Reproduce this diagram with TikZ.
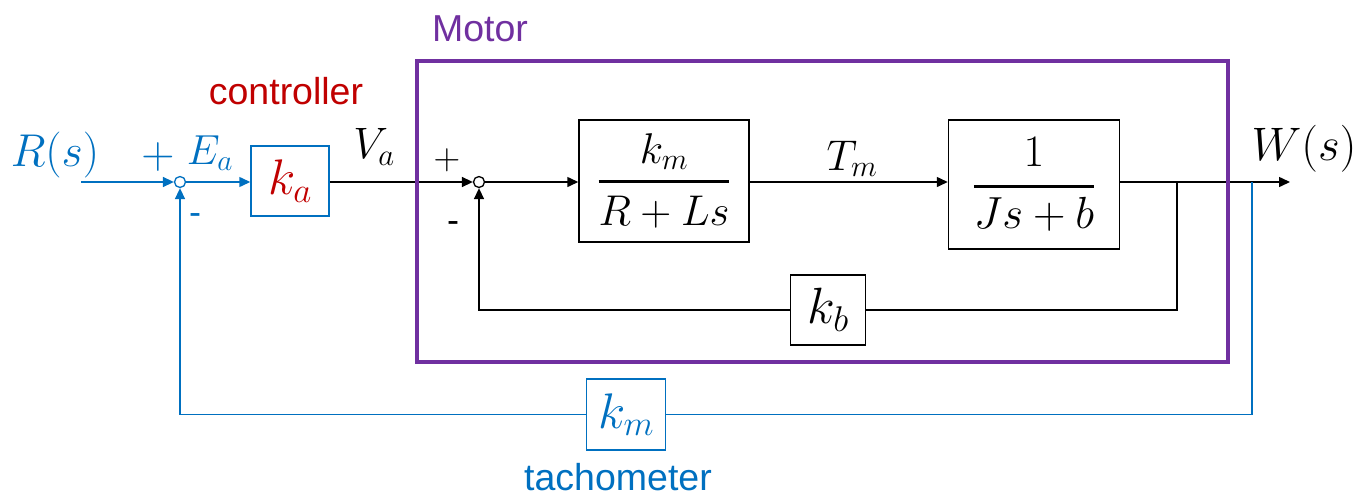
\RequirePackage{fix-cm}
\documentclass[tikz,border=0pt]{standalone}
\usepackage{amsmath}
\usepackage{fontspec}
\setsansfont{Liberation Sans}
\usetikzlibrary{arrows.meta}
\definecolor{cblue}{HTML}{0070C0}
\definecolor{cred}{HTML}{C00000}
\definecolor{cpurple}{HTML}{7030A0}
\newcommand{\fsz}[1]{\fontsize{#1}{#1}\selectfont}
\begin{document}
\begin{tikzpicture}[x=1pt,y=-1pt,
  conn/.style={line width=1.5pt},
  arr/.style={conn,-{Triangle[length=11pt,width=10pt]}},
  blk/.style={draw,line width=1.5pt,inner sep=0pt},
  sumc/.style={circle,draw,line width=1.3pt,fill=white,minimum size=11pt,inner sep=0pt},
  lbl/.style={inner sep=0pt},
  sanslbl/.style={inner sep=0pt,font=\sffamily\fsz{37.5}}]
\useasboundingbox (0,0) rectangle (1371,498);

% summing junctions
\node[sumc,draw=cblue] (s1) at (180,182) {};
\node[sumc] (s2) at (479,182) {};

% blocks
\node[blk,draw=cblue,minimum width=78pt,minimum height=70pt] (ka) at (290,181)
  {\fsz{50}$\color{cred}k_a$};
\node[blk,minimum width=170pt,minimum height=122pt] (g1) at (664,181)
  {\fsz{43}$\genfrac{}{}{3pt}{0}{k_m}{\rule{0pt}{0.78em}R+Ls}$};
\node[blk,minimum width=171pt,minimum height=129pt] (g2) at (1034,184.5)
  {\fsz{45}$\genfrac{}{}{3pt}{0}{1}{Js+b}$};
\node[blk,minimum width=75pt,minimum height=70pt] (kb) at (828,310)
  {\fsz{51}$k_b$};
\node[blk,draw=cblue,minimum width=79pt,minimum height=71pt] (tach) at (626,414.5)
  {\fsz{50}$\color{cblue}k_m$};

% free ends and branch points
\coordinate (in) at (81,182);
\coordinate (out) at (1290,182);
\coordinate (br1) at (1177,182);
\coordinate (br2) at (1252,182);

% connectors
\draw[arr,cblue] (in) -- (s1.west);
\draw[arr,cblue] (s1.east) -- (s1.east -| ka.west);
\draw[arr] (s1 -| ka.east) -- (s2.west);
\draw[arr] (s2.east) -- (s2 -| g1.west);
\draw[arr] (s2 -| g1.east) -- (s2 -| g2.west);
\draw[arr] (s2 -| g2.east) -- (out);
\draw[conn] (br1) |- (kb.east);
\draw[arr] (kb.west) -| (s2.south);
\draw[conn,cblue] (br2) |- (tach.east);
\draw[arr,cblue] (tach.west) -| (s1.south);

% motor frame
\node[draw=cpurple,line width=4.5pt,minimum width=811pt,minimum height=301pt,inner sep=0pt] (motor) at (822.5,211.5) {};

% labels
\node[lbl,text=cblue,font=\fsz{46}] (Rl) at (55,155) {$R(s)$};
\node[lbl,text=cblue,font=\fsz{46}] (p1) at (158,157) {$+$};
\node[lbl,text=cblue,font=\fsz{42}] (Ea) at (210,153) {$E_a$};
\node[sanslbl,text=cblue,font=\sffamily\fsz{36}] (m1) at (195,219) {-};
\node[sanslbl,text=cred] (ctrl) at (286,91) {controller};
\node[lbl,font=\fsz{44}] (Va) at (374,147) {$V_a$};
\node[lbl,font=\fsz{37}] (p2) at (447,160) {$+$};
\node[sanslbl,font=\sffamily\fsz{36}] (m2) at (453,227) {-};
\node[lbl,font=\fsz{43}] (Tm) at (852,159) {$T_m$};
\node[lbl,font=\fsz{47}] (Wl) at (1304,149) {$W(s)$};
\node[sanslbl,text=cpurple] (motl) at (480,29) {Motor};
\node[sanslbl,text=cblue] (tachl) at (618,477) {tachometer};
\end{tikzpicture}
\end{document}
